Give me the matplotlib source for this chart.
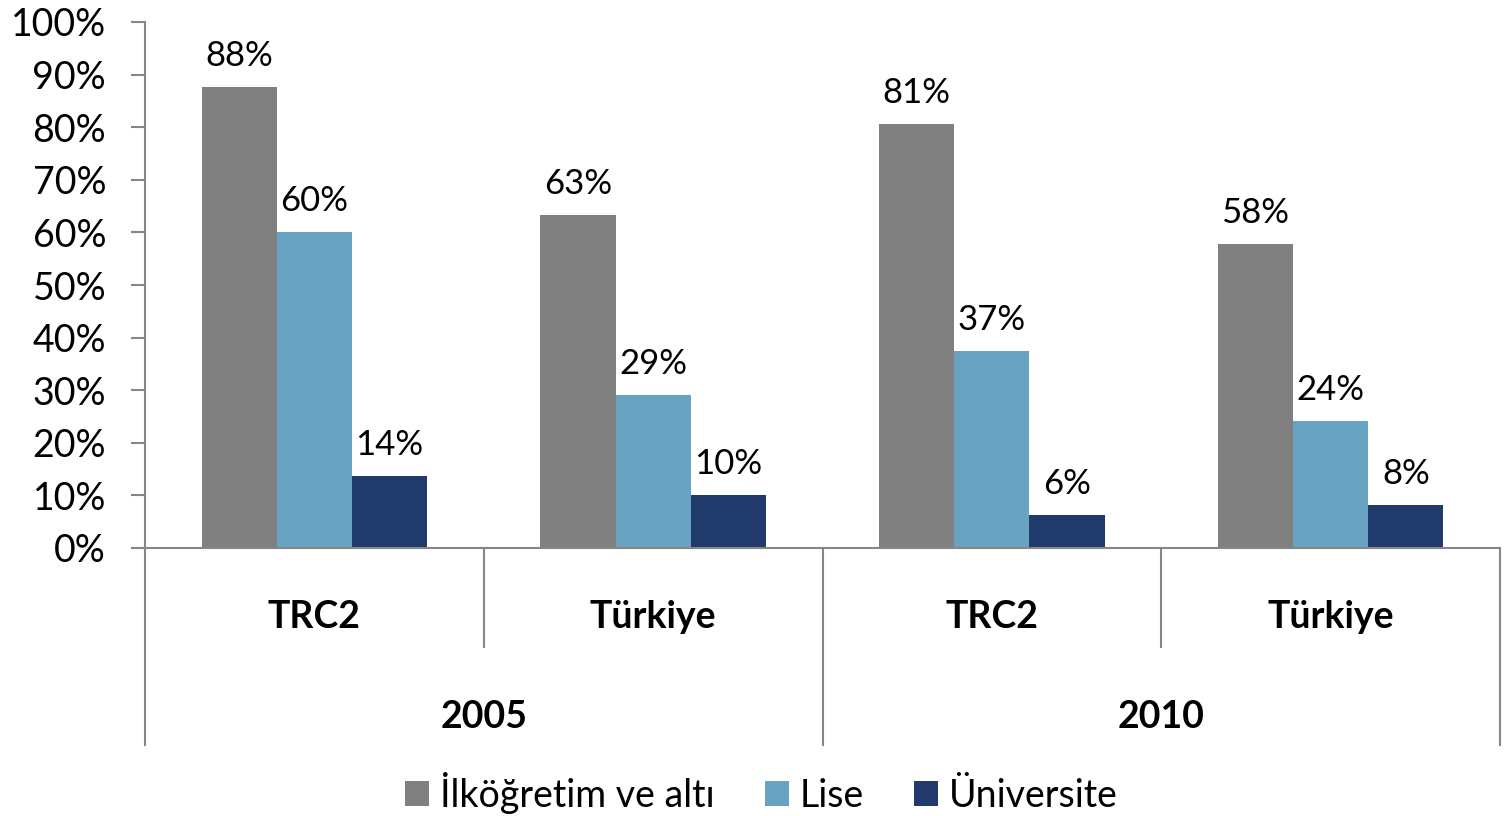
import matplotlib
matplotlib.use("Agg")
import matplotlib.pyplot as plt
from matplotlib.patches import Patch
import numpy as np

plt.rcParams['font.family'] = ['Lato', 'DejaVu Sans']

regions = ["TRC2", "Türkiye", "TRC2", "Türkiye"]
years = ["2005", "2010"]
series_names = ["İlköğretim ve altı", "Lise", "Üniversite"]
ilkogretim = [87.6, 63.3, 80.6, 57.8]
lise = [60.1, 29.1, 37.4, 24.1]
universite = [13.6, 10.1, 6.3, 8.2]
colors = ["#808080", "#68A4C2", "#213A6C"]
yticks = [0, 10, 20, 30, 40, 50, 60, 70, 80, 90, 100]

fig = plt.figure(figsize=(15.05, 8.16), dpi=100)
ax = fig.add_axes([145/1505, 1-548/816, (1500-145)/1505, (548-22)/816])

x = np.arange(len(regions))
w = 0.222
axis_col = "#868686"
for i, (vals, col) in enumerate(zip([ilkogretim, lise, universite], colors)):
    pos = x + (i - 1) * w
    ax.bar(pos, vals, width=w, color=col, zorder=2)
    for px, v in zip(pos, vals):
        ax.annotate(f"{round(v)}%", (px, v), xytext=(0, 11), textcoords="offset points",
                    ha="center", va="bottom", fontsize=25)

ax.set_xlim(-0.5, 3.5)
ax.set_ylim(0, 100)
ax.set_yticks(yticks)
ax.set_yticklabels([f"{t}%" for t in yticks], fontsize=27)
ax.tick_params(axis='y', length=10, width=1.5, color=axis_col, direction='out', pad=18)
ax.set_xticks([])
for s in ["top", "right"]:
    ax.spines[s].set_visible(False)
for s in ["left", "bottom"]:
    ax.spines[s].set_color(axis_col)
    ax.spines[s].set_linewidth(1.5)

trans = ax.get_xaxis_transform()
h_short = -(647-548)/526
h_long = -(745-548)/526
for xs, h in [(-0.5, h_long), (0.5, h_short), (1.5, h_long), (2.5, h_short), (3.5, h_long)]:
    ax.plot([xs, xs], [0, h], transform=trans, color=axis_col, lw=1.5, clip_on=False)

for xi, r in zip(x, regions):
    ax.text(xi, -(617-548)/526, r, transform=trans, ha="center", va="center",
            fontsize=27, fontweight="bold")
for j, yr in enumerate(years):
    ax.text(0.5 + 2*j, -(717-548)/526, yr, transform=trans, ha="center", va="center",
            fontsize=27, fontweight="bold")

handles = [Patch(facecolor=c, label=n) for c, n in zip(colors, series_names)]
fig.legend(handles=handles, loc="center", bbox_to_anchor=(0.506, 1-793/816), ncol=3,
           frameon=False, fontsize=27, handlelength=0.64, handleheight=0.64,
           handletextpad=0.3, columnspacing=1.33)

fig.savefig("out.png", dpi=100)
